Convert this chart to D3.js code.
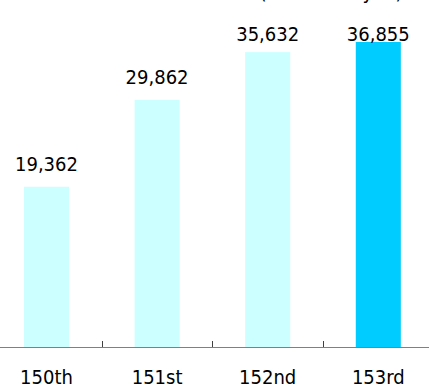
<!DOCTYPE html>
<html>
<head>
<meta charset="utf-8">
<script src="https://cdn.jsdelivr.net/npm/d3@7"></script>
<style>
  html, body { margin: 0; padding: 0; background: #fff; }
  svg { display: block; }
</style>
</head>
<body>
<svg id="chart" width="429" height="389"></svg>
<script>
const categories = ["150th", "151st", "152nd", "153rd"];
const values = [19362, 29862, 35632, 36855];
const highlighted = ["153rd"];
const unitLabel = "(Millions of yen)";

const W = 429, H = 389;
const svg = d3.select("#chart");
const font = "'DejaVu Sans Condensed', 'DejaVu Sans', Tahoma, sans-serif";

const x = d3.scaleBand()
  .domain(categories)
  .range([-8.8, 433.6])
  .paddingInner(0.593)
  .paddingOuter(0.2965);

const baseY = 347;
const y = d3.scaleLinear().domain([0, 36855]).range([baseY, 42]);

const data = categories.map((c, i) => ({ c, v: values[i] }));

// bars
svg.selectAll("rect.bar").data(data).enter().append("rect")
  .attr("class", "bar")
  .attr("x", d => x(d.c))
  .attr("width", x.bandwidth())
  .attr("y", d => y(d.v))
  .attr("height", d => y(0) - y(d.v))
  .attr("fill", d => highlighted.includes(d.c) ? "#00CCFF" : "#CCFFFF");

// axis line
svg.append("line")
  .attr("x1", 0).attr("x2", W)
  .attr("y1", y(0) + 0.5).attr("y2", y(0) + 0.5)
  .attr("stroke", "#808080").attr("stroke-width", 1);

// tick marks at band boundaries
const step = x.step();
svg.selectAll("line.tick").data(categories.slice(0, -1)).enter().append("line")
  .attr("class", "tick")
  .attr("x1", d => Math.round(x(d) + x.bandwidth() / 2 + step / 2) + 0.5)
  .attr("x2", d => Math.round(x(d) + x.bandwidth() / 2 + step / 2) + 0.5)
  .attr("y1", y(0) - 6).attr("y2", y(0))
  .attr("stroke", "#404040").attr("stroke-width", 1);

// value labels
const fmt = d3.format(",");
svg.selectAll("text.val").data(data).enter().append("text")
  .attr("class", "val")
  .attr("x", d => x(d.c) + x.bandwidth() / 2)
  .attr("y", d => Math.max(y(d.v) - 16, 41))
  .attr("text-anchor", "middle")
  .attr("font-family", font)
  .attr("font-size", 20)
  .attr("fill", "#000")
  .text(d => fmt(d.v));

// category labels
svg.selectAll("text.cat").data(categories).enter().append("text")
  .attr("class", "cat")
  .attr("x", d => x(d) + x.bandwidth() / 2)
  .attr("y", 384)
  .attr("text-anchor", "middle")
  .attr("font-family", font)
  .attr("font-size", 20)
  .attr("fill", "#000")
  .text(d => d);

// unit label (mostly cut off at top, as in the reference)
svg.append("text")
  .attr("x", 331)
  .attr("y", -1)
  .attr("text-anchor", "middle")
  .attr("font-family", font)
  .attr("font-size", 20)
  .attr("fill", "#000")
  .text(unitLabel);
</script>
</body>
</html>
